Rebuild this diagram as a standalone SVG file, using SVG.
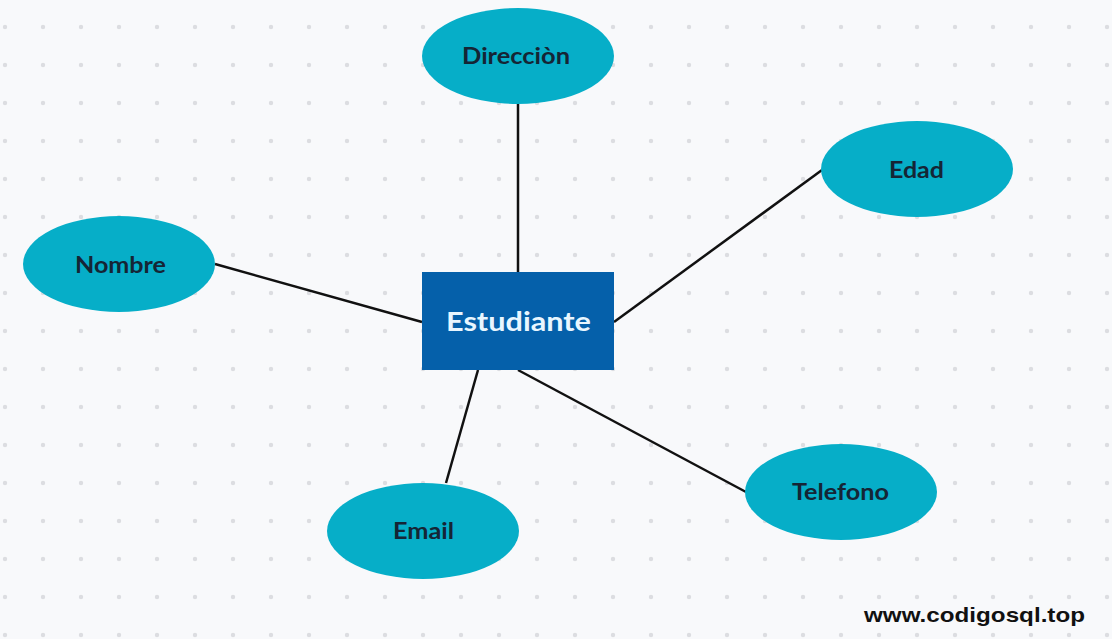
<svg xmlns="http://www.w3.org/2000/svg" width="1112" height="639" viewBox="0 0 1112 639">
<defs>
<pattern id="dots" x="5" y="27" width="38" height="38" patternUnits="userSpaceOnUse">
<circle cx="0" cy="0" r="2.2" fill="#dcdde1"/>
<circle cx="38" cy="0" r="2.2" fill="#dcdde1"/>
<circle cx="0" cy="38" r="2.2" fill="#dcdde1"/>
<circle cx="38" cy="38" r="2.2" fill="#dcdde1"/>
</pattern>
<style>
.attr{fill:#06aec8;}
.lbl{font-family:Lato,"Noto Sans",sans-serif;font-weight:bold;font-size:22px;fill:#152535;text-anchor:middle;}
.conn line{stroke:#111;stroke-width:2.5;}
</style>
</defs>
<rect width="1112" height="639" fill="#f8f9fb"/>
<rect width="1112" height="639" fill="url(#dots)"/>
<g class="conn">
<line x1="518" y1="104" x2="518" y2="273"/>
<line x1="822" y1="170" x2="614" y2="322"/>
<line x1="215" y1="264" x2="422" y2="322"/>
<line x1="446" y1="483" x2="478" y2="370"/>
<line x1="746" y1="492" x2="518" y2="370"/>
</g>
<g id="estudiante">
<rect x="422" y="272" width="192" height="98" fill="#0560aa"/>
<text x="518.5" y="331" text-anchor="middle" font-family="Lato,'Noto Sans',sans-serif" font-weight="bold" font-size="27" fill="#e8f6ff" textLength="145" lengthAdjust="spacingAndGlyphs">Estudiante</text>
</g>
<g id="direccion">
<ellipse class="attr" cx="518" cy="56" rx="96" ry="48"/>
<text class="lbl" x="516" y="64" textLength="108" lengthAdjust="spacingAndGlyphs">Direcciòn</text>
</g>
<g id="edad">
<ellipse class="attr" cx="917" cy="169" rx="96" ry="48"/>
<text class="lbl" x="916.5" y="178" textLength="55" lengthAdjust="spacingAndGlyphs">Edad</text>
</g>
<g id="nombre">
<ellipse class="attr" cx="119" cy="264" rx="96" ry="48"/>
<text class="lbl" x="120.5" y="273" textLength="91" lengthAdjust="spacingAndGlyphs">Nombre</text>
</g>
<g id="email">
<ellipse class="attr" cx="423" cy="531" rx="96" ry="48"/>
<text class="lbl" x="423.5" y="539" textLength="61" lengthAdjust="spacingAndGlyphs">Email</text>
</g>
<g id="telefono">
<ellipse class="attr" cx="841" cy="492" rx="96" ry="48"/>
<text class="lbl" x="840.5" y="500" textLength="97" lengthAdjust="spacingAndGlyphs">Telefono</text>
</g>
<text x="974.5" y="622" text-anchor="middle" font-family="'Liberation Sans',Arial,sans-serif" font-weight="bold" font-size="21" fill="#111" textLength="221" lengthAdjust="spacingAndGlyphs">www.codigosql.top</text>
</svg>
